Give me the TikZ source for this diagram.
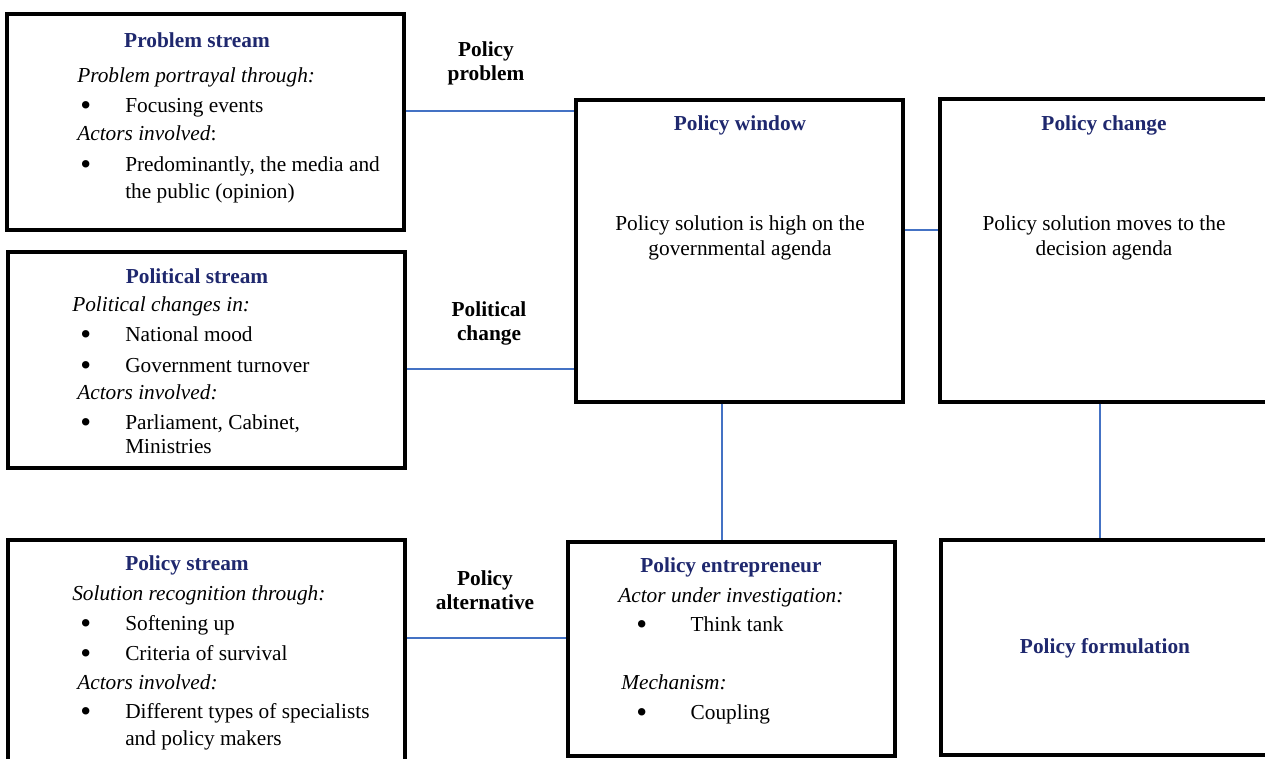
\documentclass[tikz,border=0pt]{standalone}
\usepackage{fontspec}
\usepackage{graphicx}
\setmainfont{Liberation Serif}
\usetikzlibrary{positioning, fit}
\definecolor{titleblue}{RGB}{31,40,110}
\definecolor{linkblue}{RGB}{68,114,196}
\newcommand{\bul}[1][33.75pt]{\makebox[#1][l]{\raisebox{-2.4pt}{\scalebox{1.45}{\textbullet}}}}

\begin{document}
\begin{tikzpicture}[x=0.75pt, y=-0.75pt, font=\fontsize{16}{18.75}\selectfont,
  box/.style={draw, line width=2.6pt, inner sep=0pt},
  ttl/.style={font=\fontsize{16}{18}\selectfont\bfseries, text=titleblue, inner sep=0pt},
  lbl/.style={font=\fontsize{16}{18}\selectfont\bfseries, align=center, inner sep=0pt},
  ln/.style={anchor=west, inner sep=0pt, text height=12.5pt, text depth=1pt},
  link/.style={draw=linkblue, line width=1.6pt}]
  \useasboundingbox (0,0) rectangle (1265,758);

  \node[box, fit={(7,14) (404,230)}] (prob) {};
  \node[box, fit={(8,252) (405,468)}] (polit) {};
  \node[box, fit={(8,540) (405,775)}] (pstream) {};
  \node[box, fit={(576,100) (903,402)}] (win) {};
  \node[box, fit={(940,99) (1285,402)}] (chg) {};
  \node[box, fit={(568,542) (895,756)}] (entr) {};
  \node[box, fit={(941,540) (1285,755)}] (form) {};

  \draw[link] (prob.east |- 0,111) -- (win.west |- 0,111);
  \draw[link] (polit.east |- 0,369) -- (win.west |- 0,369);
  \draw[link] (pstream.east |- 0,638) -- (entr.west |- 0,638);
  \draw[link] (win.south -| 722,0) -- (entr.north -| 722,0);
  \draw[link] (win.east |- 0,230) -- (chg.west |- 0,230);
  \draw[link] (chg.south -| 1100,0) -- (form.north -| 1100,0);

  \node[lbl] (probL) at (486,63) {Policy\\problem};
  \node[lbl] (politL) at (489,323) {Political\\change};
  \node[lbl] (altL) at (485,590) {Policy\\alternative};

  \node[ttl] (probT) at (197,40) {Problem stream};
  \node[ln] (prob1) at (77,75) {\textit{Problem portrayal through:}};
  \node[ln] (prob2) at (80,105) {\bul Focusing events};
  \node[ln] (prob3) at (77,133) {\textit{Actors involved}:};
  \node[ln] (prob4) at (80,164) {\bul Predominantly, the media and};
  \node[ln] (prob5) at (125,191) {the public (opinion)};

  \node[ttl] (politT) at (197,276) {Political stream};
  \node[ln] (polit1) at (72,304) {\textit{Political changes in:}};
  \node[ln] (polit2) at (80,334) {\bul National mood};
  \node[ln] (polit3) at (80,365) {\bul Government turnover};
  \node[ln] (polit4) at (77,392) {\textit{Actors involved:}};
  \node[ln] (polit5) at (80,422) {\bul Parliament, Cabinet,};
  \node[ln] (polit6) at (125,446) {Ministries};

  \node[ttl] (pstreamT) at (187,565) {Policy stream};
  \node[ln] (pstream1) at (72,593) {\textit{Solution recognition through:}};
  \node[ln] (pstream2) at (80,623) {\bul Softening up};
  \node[ln] (pstream3) at (80,653) {\bul Criteria of survival};
  \node[ln] (pstream4) at (77,682) {\textit{Actors involved:}};
  \node[ln] (pstream5) at (80,711) {\bul Different types of specialists};
  \node[ln] (pstream6) at (125,738) {and policy makers};

  \node[ttl] (winT) at (740,125) {Policy window};
  \node[align=center, inner sep=0pt] (winX) at (740,238) {Policy solution is high on the\\governmental agenda};

  \node[ttl] (chgT) at (1104,125) {Policy change};
  \node[align=center, inner sep=0pt] (chgX) at (1104,238) {Policy solution moves to the\\decision agenda};

  \node[ttl] (entrT) at (731,567) {Policy entrepreneur};
  \node[ln] (entr1) at (618,595) {\textit{Actor under investigation:}};
  \node[ln] (entr2) at (636,624) {\bul[36.75pt] Think tank};
  \node[ln] (entr3) at (621,682) {\textit{Mechanism:}};
  \node[ln] (entr4) at (636,712) {\bul[36.75pt] Coupling};

  \node[ttl] (formT) at (1105,648) {Policy formulation};
\end{tikzpicture}
\end{document}
